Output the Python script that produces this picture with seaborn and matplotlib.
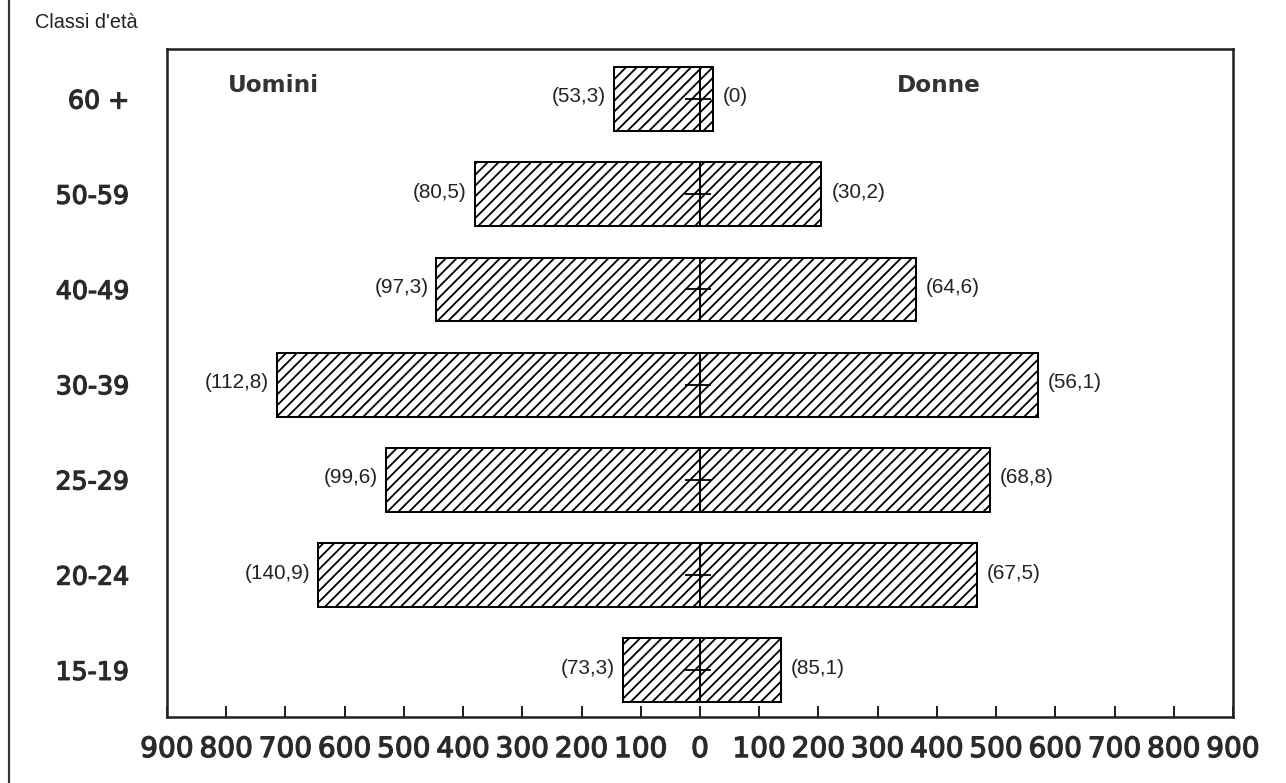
import numpy as np
import pandas as pd
import seaborn as sns
import matplotlib.pyplot as plt
import matplotlib.patheffects as pe
from matplotlib.lines import Line2D

# age classes, from top to bottom
Classi = ['60 +', '50-59', '40-49', '30-39', '25-29', '20-24', '15-19']

# bar lengths
Uomini = [145, 380, 445, 715, 530, 645, 130]
Donne = [22, 205, 365, 570, 490, 467, 137]

# numbers printed in brackets next to the bars
EtichetteUomini = ['53,3', '80,5', '97,3', '112,8', '99,6', '140,9', '73,3']
EtichetteDonne = ['0', '30,2', '64,6', '56,1', '68,8', '67,5', '85,1']

TickValues = np.arange(-900, 1000, 100)

DPI = 130
sns.set_style('white')
plt.rcParams['font.family'] = ['DejaVu Sans']
plt.rcParams['hatch.linewidth'] = 1.0

fig = plt.figure(figsize=(1286 / DPI, 783 / DPI), dpi=DPI)
ax = fig.add_axes([167 / 1286, 1 - 717 / 783, (1233 - 167) / 1286, (717 - 49) / 783])

DataM = pd.DataFrame({'classe': Classi, 'valore': -np.array(Uomini)})
DataF = pd.DataFrame({'classe': Classi, 'valore': np.array(Donne)})

for Data in [DataM, DataF]:
	sns.barplot(data=Data, x='valore', y='classe', order=Classi, orient='h',
				color='white', saturation=1, width=0.67, edgecolor='black',
				linewidth=1.1, ax=ax)

for p in ax.patches:
	p.set_hatch('////')

# little dash across the zero line
ax.plot(np.zeros(len(Classi)) - 3, np.arange(len(Classi)), ls='none', marker='_',
		markersize=14, markeredgewidth=1.0, color='black')

# bracket labels
for i in range(len(Classi)):
	ax.annotate('(' + EtichetteUomini[i] + ')', xy=(-Uomini[i], i), xytext=(-8, 2),
				textcoords='offset pixels', ha='right', va='center',
				fontsize=11.5, family='Liberation Sans', color='#222222')
	ax.annotate('(' + EtichetteDonne[i] + ')', xy=(Donne[i], i), xytext=(10, 2),
				textcoords='offset pixels', ha='left', va='center',
				fontsize=11.5, family='Liberation Sans', color='#222222')

ax.set_xlim(-898, 895)
ax.set_ylim(6.49, -0.525)

# slightly heavier stroke for the axis numbers, like the printed original
Spessore = [pe.withStroke(linewidth=0.7, foreground='#2a2a2a')]

ax.set_xticks(TickValues)
ax.set_xticklabels([str(abs(v)) for v in TickValues], fontsize=15.5,
				   color='#2a2a2a')
for lab in ax.get_xticklabels():
	lab.set_path_effects(Spessore)
ax.tick_params(axis='x', bottom=True, direction='in', length=6, width=1.1, pad=10,
			   color='#222222')
ax.tick_params(axis='y', left=False, length=0, pad=21)
for lab in ax.get_yticklabels():
	lab.set_fontsize(14)
	lab.set_color('#2a2a2a')
	lab.set_path_effects(Spessore)

ax.set_xlabel('')
ax.set_ylabel('')

for s in ax.spines.values():
	s.set_visible(True)
	s.set_color('#222222')
	s.set_linewidth(1.4)

ax.text(0.057, 0.946, 'Uomini', transform=ax.transAxes, fontsize=12.8,
		fontweight='bold', color='#333333', va='center', ha='left')
ax.text(0.685, 0.946, 'Donne', transform=ax.transAxes, fontsize=12.8,
		fontweight='bold', color='#333333', va='center', ha='left')

fig.text(35 / 1286, 1 - 22 / 783, "Classi d'età", fontsize=11, family='Liberation Sans',
		 color='#222222', va='center', ha='left')

# frame line on the left of the page
fig.add_artist(Line2D([9 / 1286, 9 / 1286], [0, 1], transform=fig.transFigure,
					  color='#333333', linewidth=1.2))

plt.savefig('out.png', dpi=DPI)
